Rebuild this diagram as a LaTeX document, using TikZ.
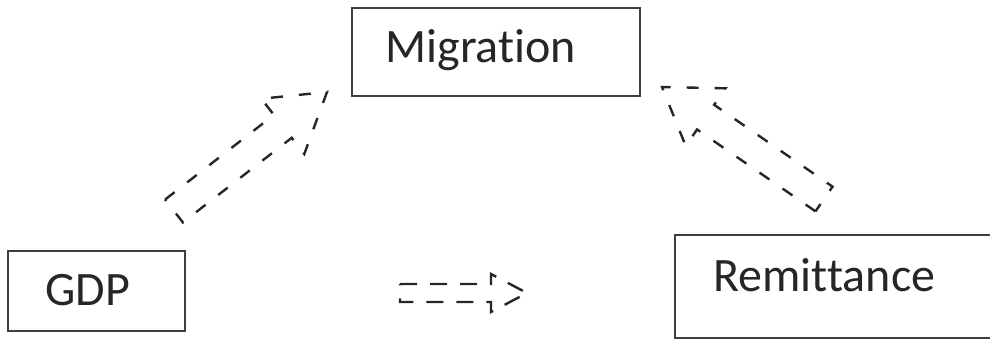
\documentclass[tikz,border=0pt]{standalone}
\usepackage{fontspec}
\setmainfont{Carlito}[Ligatures={NoCommon,NoRequired,NoContextual}]
\usetikzlibrary{calc}
\tikzset{
  boxnode/.style={draw=black!75, line width=1.4pt, fill=none, inner sep=0pt, rectangle},
  lbl/.style={inner sep=0pt, anchor=base west, font=\fontsize{24}{28}\selectfont, text=black!85},
  barrow/.style={draw=black!85, line width=1.2pt, dash pattern=on 6pt off 8pt, line join=miter},
  barrowb/.style={draw=black!85, line width=1.2pt, dash pattern=on 8.5pt off 6.5pt, line join=miter}
}
% #1 prefix, #2 style, #3 head length, #4 shaft half width, #5 head half width
\newcommand\blockarr[5]{%
  \coordinate (#1b) at ($(#1p)!#3!(#1t)$);
  \draw[#2] ($(#1t)!#4!90:(#1p)$) -- ($(#1b)!#4!90:(#1p)$) -- ($(#1b)!#5!90:(#1p)$)
    -- (#1p) -- ($(#1b)!#5!-90:(#1p)$) -- ($(#1b)!#4!-90:(#1p)$)
    -- ($(#1t)!#4!-90:(#1p)$) -- cycle;
}
\begin{document}
\begin{tikzpicture}[x=0.5pt,y=-0.5pt]
\useasboundingbox (0,0) rectangle (990,341);
\clip (0,0) rectangle (990,341);
% boxes
\node[boxnode, minimum width=144pt, minimum height=44pt] (mig) at (496,52) {};
\node[boxnode, minimum width=88.5pt, minimum height=40pt] (gdp) at (96.5,291) {};
\node[boxnode, minimum width=162.5pt, minimum height=51.5pt] (rem) at (837.5,286.5) {};
% labels
\node[lbl] (tmig) at (385,63) {Migration};
\node[lbl] (tgdp) at (45,306) {GDP};
\node[lbl] (trem) at (713,292) {Remittance};
% arrow GDP -> Migration
\coordinate (at) at (174,211);
\coordinate (ap) at (327,92);
\blockarr{a}{barrow}{28pt}{7.25pt}{17.5pt}
% arrow Remittance -> Migration
\coordinate (ct) at (824,199);
\coordinate (cp) at (662,87);
\blockarr{c}{barrow}{26.5pt}{7.5pt}{17.5pt}
% arrow GDP -> Remittance
\coordinate (et) at (400,293);
\coordinate (ep) at (527,293);
\blockarr{e}{barrowb}{18pt}{4.5pt}{9.5pt}
\end{tikzpicture}
\end{document}
